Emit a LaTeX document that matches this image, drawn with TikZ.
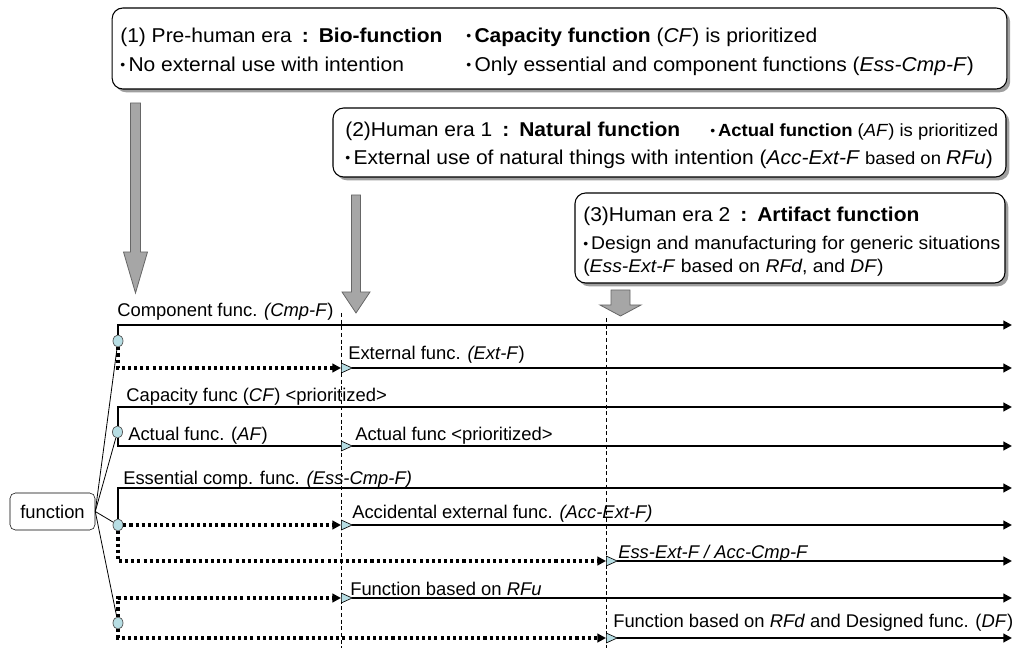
\documentclass[tikz,border=0pt]{standalone}
\usepackage{fontspec}
\setmainfont{Liberation Sans}
\newfontfamily\boxfont[FakeStretch=1.05]{Liberation Sans}
\usepackage{xcolor}
\usetikzlibrary{arrows.meta,shapes.geometric,shadows}

\definecolor{bulb}{RGB}{183,222,228}
\definecolor{arrowgray}{RGB}{166,166,166}

\newcommand{\bigtxt}{\boxfont\fontsize{15}{18}\selectfont}
\newcommand{\midtxt}{\boxfont\fontsize{13.8}{16}\selectfont}
\newcommand{\smalltxt}{\boxfont\fontsize{13.2}{16}\selectfont}
\newcommand{\lbltxt}{\fontsize{13.8}{17}\selectfont}
\newcommand{\dotmark}{\raisebox{0.2ex}{\fontsize{10}{10}\selectfont\textbullet}\,}

\begin{document}
\begin{tikzpicture}[
    x=0.75pt, y=-0.75pt,
    era/.style={draw, rounded corners=8pt, fill=white, line width=0.8pt, inner sep=0pt,
        drop shadow={shadow xshift=2.5pt, shadow yshift=-2.5pt, fill=gray!75, opacity=1}},
    txt/.style={anchor=base west, inner sep=0pt},
    lbl/.style={anchor=base west, inner sep=0pt, font=\lbltxt},
    root/.style={draw, rounded corners=4pt, font=\lbltxt, minimum width=63.75pt, minimum height=27.75pt},
    bulbnode/.style={ellipse, draw=black!70, fill=bulb, line width=0.5pt, inner sep=0pt,
        minimum width=7.5pt, minimum height=9pt},
    endtip/.style={-{Triangle[length=6.5pt, width=6.5pt]}},
    mainline/.style={line width=1.5pt, endtip},
    stemline/.style={line width=1.5pt},
    dotline/.style={line width=2.3pt, dash pattern=on 2.3pt off 2.3pt, endtip},
    markline/.style={line width=1.5pt,
        {Triangle[reversed, length=9pt, width=8pt, fill=bulb, line width=0.5pt]}-{Triangle[length=6.5pt, width=6.5pt]}},
    guide/.style={line width=0.6pt, dash pattern=on 3pt off 2pt},
    bigarrow/.style={fill=arrowgray, draw=black!60, line width=0.6pt}
]
    \useasboundingbox (0,0) rectangle (1017,648);

    % Era boxes
    \node[era, minimum width=671pt, minimum height=60.75pt] (era1) at (559.5,48.5) {};
    \node[era, minimum width=504.75pt, minimum height=51.75pt] (era2) at (669.5,142.5) {};
    \node[era, minimum width=322.5pt, minimum height=67.5pt] (era3) at (790,238) {};

    % (1) pre-human era
    \node[txt] (e1a) at (120,43) {\bigtxt (1) Pre-human era\enspace\textbf{:}\enspace\textbf{Bio-function}};
    \node[txt] (e1b) at (466,43) {\bigtxt\dotmark\textbf{Capacity function} (\textit{CF}) is prioritized};
    \node[txt] (e1c) at (120,72) {\bigtxt\dotmark No external use with intention};
    \node[txt] (e1d) at (466,72) {\bigtxt\dotmark Only essential and component functions (\textit{Ess-Cmp-F})};

    % (2) human era 1
    \node[txt] (e2a) at (345,137) {\bigtxt (2)Human era 1\enspace\textbf{:}\enspace\textbf{Natural function}};
    \node[txt] (e2b) at (710,137) {\smalltxt\dotmark\textbf{Actual function} (\textit{AF}) is prioritized};
    \node[txt] (e2c) at (345,165) {\bigtxt\dotmark External use of natural things with intention (\textit{Acc-Ext-F}{\smalltxt\ based on }\textit{RFu})};

    % (3) human era 2
    \node[txt] (e3a) at (583,222) {\bigtxt (3)Human era 2\enspace\textbf{:}\enspace\textbf{Artifact function}};
    \node[txt] (e3b) at (583,250) {\midtxt\dotmark Design and manufacturing for generic situations};
    \node[txt] (e3c) at (583,273) {\midtxt(\textit{Ess-Ext-F} based on \textit{RFd}, and \textit{DF})};

    % Block arrows
    \foreach \cx/\top/\neck/\tip/\sw/\hw in {135.5/103/252/293/5/12, 356/195/292/313/4.5/14, 620.5/290/305/316/9.5/20.5}
        \draw[bigarrow] (\cx-\sw,\top) -- (\cx+\sw,\top) -- (\cx+\sw,\neck) -- (\cx+\hw,\neck)
            -- (\cx,\tip) -- (\cx-\hw,\neck) -- (\cx-\sw,\neck) -- cycle;

    % Era borders
    \draw[guide] (341,313) -- (341,648);
    \draw[guide] (606,318) -- (606,648);

    % Root and branch points
    \node[root] (fn) at (52.5,511.5) {function};
    \node[bulbnode] (c1) at (118,341) {};
    \node[bulbnode] (c2) at (117.5,432) {};
    \node[bulbnode] (c3) at (118,525) {};
    \node[bulbnode] (c4) at (118,623) {};
    \foreach \c in {c1,c2,c3,c4}
        \draw[line width=0.6pt] (fn.east) -- (\c);

    % Ends of the timelines
    \foreach \n/\y in {1/325, 2/368, 3/407, 4/446, 5/488, 6/525, 7/561, 8/598, 9/638}
        \coordinate (e\n) at (1012,\y);
    \coordinate (m2) at (341,368);
    \coordinate (m4) at (341,446);
    \coordinate (m6) at (341,525);
    \coordinate (m7) at (606,561);
    \coordinate (m8) at (341,598);
    \coordinate (m9) at (606,638);

    % Timelines
    \draw[mainline] (c1) |- (e1);
    \draw[dotline] (c1) |- (m2);
    \draw[markline] (m2) -- (e2);
    \draw[mainline] (c2) |- (e3);
    \draw[stemline] (c2) |- (m4);
    \draw[markline] (m4) -- (e4);
    \draw[mainline] (c3) |- (e5);
    \draw[dotline] (c3) -- (m6);
    \draw[markline] (m6) -- (e6);
    \draw[dotline] (c3) |- (m7);
    \draw[markline] (m7) -- (e7);
    \draw[dotline] (c4) |- (m8);
    \draw[markline] (m8) -- (e8);
    \draw[dotline] (c4) |- (m9);
    \draw[markline] (m9) -- (e9);

    % Labels
    \node[lbl] (l1) at (117,317) {Component func. \textit{(Cmp-F})};
    \node[lbl] (l2) at (348,360) {External func. \textit{(Ext-F})};
    \node[lbl] (l3) at (126,402) {Capacity func (\textit{CF}) <prioritized>};
    \node[lbl] (l4) at (128,440) {Actual func. (\textit{AF})};
    \node[lbl] (l4b) at (355,440) {Actual func <prioritized>};
    \node[lbl] (l5) at (123,484) {Essential comp. func. \textit{(Ess-Cmp-F)}};
    \node[lbl] (l6) at (352,518) {Accidental external func. \textit{(Acc-Ext-F)}};
    \node[lbl] (l7) at (618,558) {\textit{Ess-Ext-F / Acc-Cmp-F}};
    \node[lbl] (l8) at (350,595) {Function based on \textit{RFu}};
    \node[lbl] (l9) at (613,627) {Function based on \textit{RFd} and Designed func. (\textit{DF})};
\end{tikzpicture}
\end{document}
